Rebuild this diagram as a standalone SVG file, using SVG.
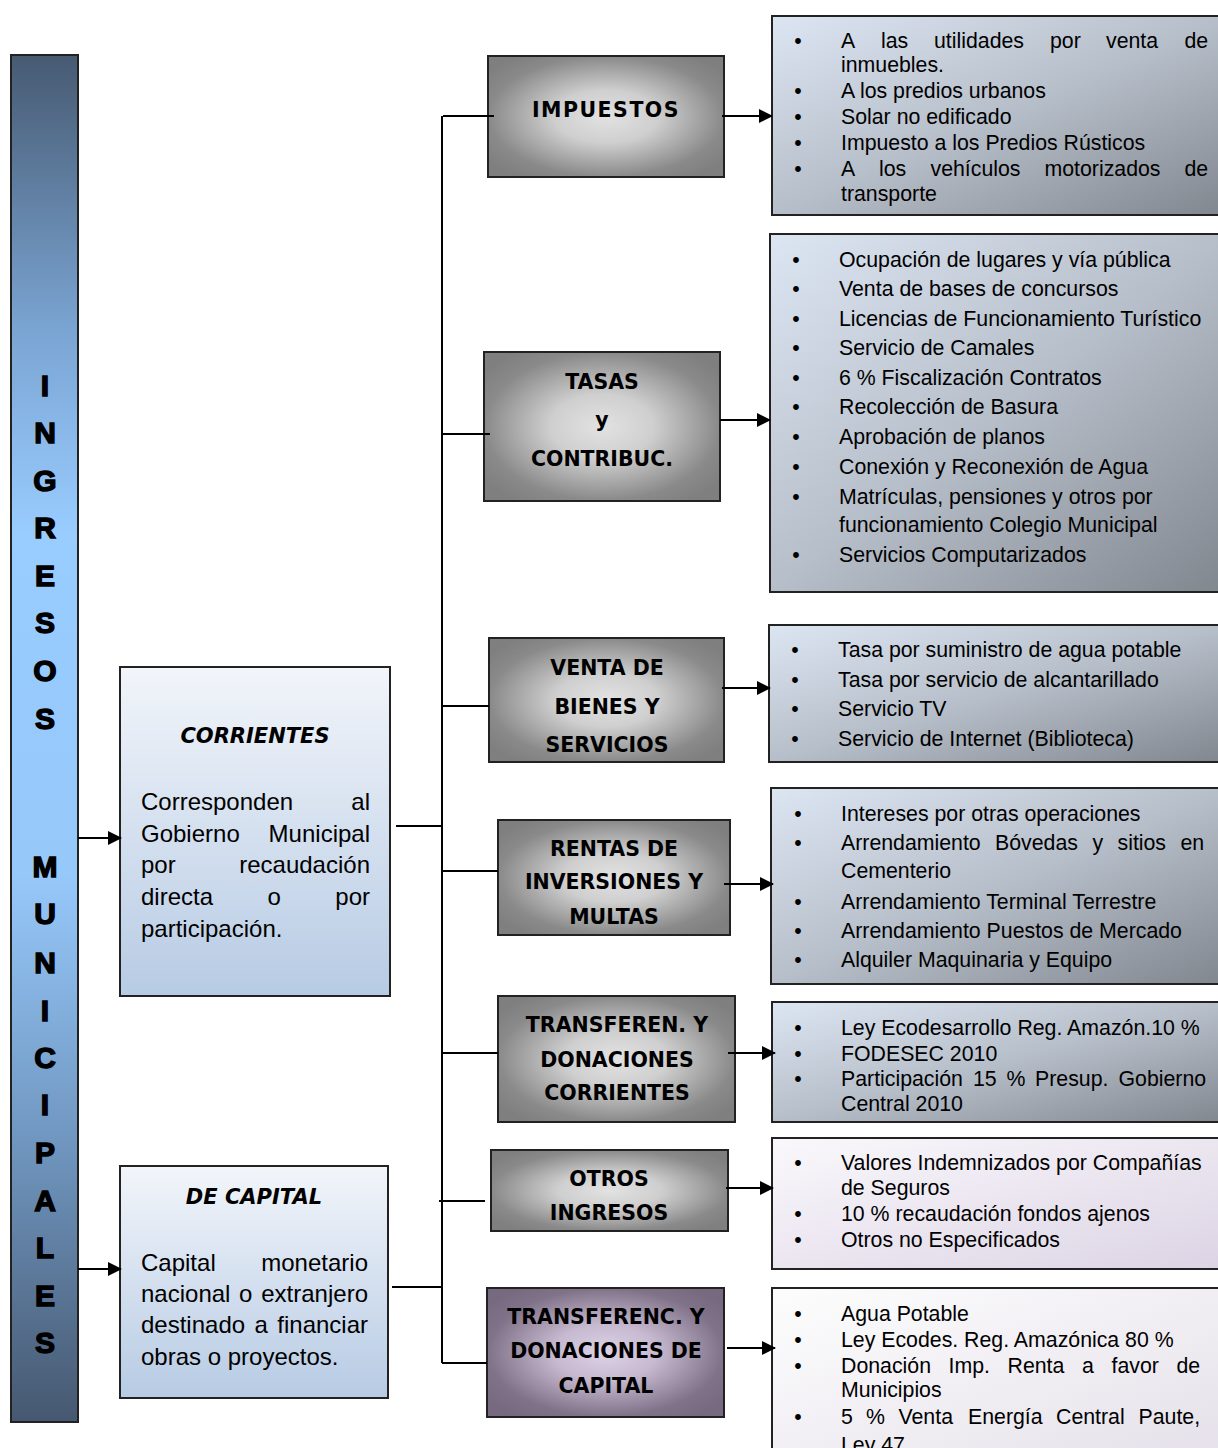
<svg xmlns="http://www.w3.org/2000/svg" width="1218" height="1448" viewBox="0 0 1218 1448">
<defs>
<linearGradient id="barG" x1="0" y1="0" x2="0" y2="1">
<stop offset="0" stop-color="#475a72"/>
<stop offset="0.2" stop-color="#7aa4d2"/>
<stop offset="0.35" stop-color="#99ccff"/>
<stop offset="0.6" stop-color="#96c8fa"/>
<stop offset="0.8" stop-color="#6f95be"/>
<stop offset="1" stop-color="#465870"/>
</linearGradient>
<radialGradient id="grayG" cx="0.5" cy="0.5" r="0.62">
<stop offset="0" stop-color="#e2e2e2"/>
<stop offset="0.35" stop-color="#cfcfcf"/>
<stop offset="0.8" stop-color="#8a8a8a"/>
<stop offset="1" stop-color="#7f7f7f"/>
</radialGradient>
<radialGradient id="purpG" cx="0.5" cy="0.5" r="0.62">
<stop offset="0" stop-color="#ddd3e6"/>
<stop offset="0.35" stop-color="#c6b9d0"/>
<stop offset="0.8" stop-color="#807289"/>
<stop offset="1" stop-color="#77697f"/>
</radialGradient>
<linearGradient id="listG" x1="0" y1="0" x2="1" y2="1">
<stop offset="0" stop-color="#dce6f2"/>
<stop offset="0.5" stop-color="#b6bec9"/>
<stop offset="1" stop-color="#80868e"/>
</linearGradient>
<linearGradient id="lavG" x1="0" y1="0" x2="1" y2="1">
<stop offset="0" stop-color="#faf8fc"/>
<stop offset="1" stop-color="#dcd3e4"/>
</linearGradient>
<linearGradient id="paleG" x1="0" y1="0" x2="1" y2="1">
<stop offset="0" stop-color="#fdfdfd"/>
<stop offset="1" stop-color="#e4dfe9"/>
</linearGradient>
<linearGradient id="blueG" x1="0" y1="0" x2="0" y2="1">
<stop offset="0" stop-color="#f2f5fa"/>
<stop offset="1" stop-color="#b7cbe4"/>
</linearGradient>
<marker id="arr" markerUnits="userSpaceOnUse" markerWidth="14" markerHeight="14" refX="13" refY="7" orient="auto">
<path d="M0,0 L14,7 L0,14 z" fill="#000"/>
</marker>
</defs>
<style>
.bx{stroke:#222;stroke-width:2}
.lbl{font-family:"DejaVu Sans",sans-serif;font-weight:bold;font-size:20.5px;fill:#000;text-anchor:middle}
.ttl{font-family:"DejaVu Sans",sans-serif;font-weight:bold;font-style:oblique;font-size:21px;fill:#000;text-anchor:middle}
.vl{font-family:"Liberation Sans",Arial,sans-serif;font-weight:bold;font-size:30px;fill:#000;stroke:#000;stroke-width:1.4;text-anchor:middle}
.li{font-family:"Liberation Sans",Arial,sans-serif;font-size:21.3px;fill:#000}
.bu{font-family:"Liberation Sans",Arial,sans-serif;font-size:21.3px;fill:#000;text-anchor:middle}
.bd{font-family:"Liberation Sans",Arial,sans-serif;font-size:24px;fill:#000}
.e{text-anchor:end}
.cn{stroke:#000;stroke-width:2;fill:none}
</style>

<g id="ingresos-municipales">
<rect x="11" y="55" width="67" height="1367" fill="url(#barG)" class="bx"/>
<text class="vl" x="45" y="396">I</text>
<text class="vl" x="45" y="443">N</text>
<text class="vl" x="45" y="491">G</text>
<text class="vl" x="45" y="538">R</text>
<text class="vl" x="45" y="586">E</text>
<text class="vl" x="45" y="633">S</text>
<text class="vl" x="45" y="681">O</text>
<text class="vl" x="45" y="729">S</text>
<text class="vl" x="45" y="877">M</text>
<text class="vl" x="45" y="924">U</text>
<text class="vl" x="45" y="973">N</text>
<text class="vl" x="45" y="1021">I</text>
<text class="vl" x="45" y="1068">C</text>
<text class="vl" x="45" y="1115">I</text>
<text class="vl" x="45" y="1163">P</text>
<text class="vl" x="45" y="1211">A</text>
<text class="vl" x="45" y="1258">L</text>
<text class="vl" x="45" y="1306">E</text>
<text class="vl" x="45" y="1353">S</text>
</g>

<g id="corrientes">
<rect x="120" y="667" width="270" height="329" fill="url(#blueG)" class="bx"/>
<text class="ttl" x="255" y="743">CORRIENTES</text>
<text class="bd" x="141" y="809.5">Corresponden</text>
<text class="bd e" x="370" y="809.5">al</text>
<text class="bd" x="141" y="841.5">Gobierno</text>
<text class="bd e" x="370" y="841.5">Municipal</text>
<text class="bd" x="141" y="872.5">por</text>
<text class="bd e" x="370" y="872.5">recaudación</text>
<text class="bd" x="141" y="904.5">directa</text>
<text class="bd" x="267.5" y="904.5">o</text>
<text class="bd e" x="370" y="904.5">por</text>
<text class="bd" x="141" y="936.5">participación.</text>
</g>

<g id="de-capital">
<rect x="120" y="1166" width="268" height="232" fill="url(#blueG)" class="bx"/>
<text class="ttl" x="254" y="1204">DE CAPITAL</text>
<text class="bd" x="141" y="1270.5">Capital</text>
<text class="bd e" x="368" y="1270.5">monetario</text>
<text class="bd" x="141" y="1301.5">nacional</text>
<text class="bd" x="239" y="1301.5">o</text>
<text class="bd e" x="368" y="1301.5">extranjero</text>
<text class="bd" x="141" y="1332.5">destinado</text>
<text class="bd" x="254.5" y="1332.5">a</text>
<text class="bd e" x="368" y="1332.5">financiar</text>
<text class="bd" x="141" y="1364.5">obras o proyectos.</text>
</g>

<g id="impuestos">
<rect x="488" y="56" width="236" height="121" fill="url(#grayG)" class="bx"/>
<text class="lbl" x="606" y="117" letter-spacing="1.5">IMPUESTOS</text>
</g>
<g id="tasas">
<rect x="484" y="352" width="236" height="149" fill="url(#grayG)" class="bx"/>
<text class="lbl" x="602" y="389">TASAS</text>
<text class="lbl" x="602" y="427">y</text>
<text class="lbl" x="602" y="466">CONTRIBUC.</text>
</g>
<g id="venta">
<rect x="489" y="638" width="235" height="124" fill="url(#grayG)" class="bx"/>
<text class="lbl" x="607" y="675">VENTA DE</text>
<text class="lbl" x="607" y="714">BIENES Y</text>
<text class="lbl" x="607" y="752">SERVICIOS</text>
</g>
<g id="rentas">
<rect x="498" y="820" width="232" height="115" fill="url(#grayG)" class="bx"/>
<text class="lbl" x="614" y="856">RENTAS DE</text>
<text class="lbl" x="614" y="889">INVERSIONES Y</text>
<text class="lbl" x="614" y="924">MULTAS</text>
</g>
<g id="transf-corrientes">
<rect x="498" y="996" width="237" height="126" fill="url(#grayG)" class="bx"/>
<text class="lbl" x="617" y="1032">TRANSFEREN. Y</text>
<text class="lbl" x="617" y="1067">DONACIONES</text>
<text class="lbl" x="617" y="1100">CORRIENTES</text>
</g>
<g id="otros">
<rect x="491" y="1150" width="237" height="81" fill="url(#grayG)" class="bx"/>
<text class="lbl" x="609" y="1186">OTROS</text>
<text class="lbl" x="609" y="1220">INGRESOS</text>
</g>
<g id="transf-capital">
<rect x="487" y="1288" width="237" height="129" fill="url(#purpG)" class="bx"/>
<text class="lbl" x="606" y="1324">TRANSFERENC. Y</text>
<text class="lbl" x="606" y="1358">DONACIONES DE</text>
<text class="lbl" x="606" y="1393">CAPITAL</text>
</g>

<g id="lista-impuestos">
<rect x="772" y="16" width="460" height="199" fill="url(#listG)" class="bx"/>
<text class="bu" x="798" y="47.5">•</text>
<text class="li" y="47.5"><tspan x="841">A</tspan><tspan x="881">las</tspan><tspan x="934">utilidades</tspan><tspan x="1050">por</tspan><tspan x="1106">venta</tspan><tspan x="1184.5">de</tspan></text>
<text class="li" x="841" y="71.5">inmuebles.</text>
<text class="bu" x="798" y="97.5">•</text>
<text class="li" x="841" y="97.5">A los predios urbanos</text>
<text class="bu" x="798" y="123.5">•</text>
<text class="li" x="841" y="123.5">Solar no edificado</text>
<text class="bu" x="798" y="149.5">•</text>
<text class="li" x="841" y="149.5">Impuesto a los Predios Rústicos</text>
<text class="bu" x="798" y="175.5">•</text>
<text class="li" y="175.5"><tspan x="841">A</tspan><tspan x="879">los</tspan><tspan x="930.5">vehículos</tspan><tspan x="1044.5">motorizados</tspan><tspan x="1184.5">de</tspan></text>
<text class="li" x="841" y="200.5">transporte</text>
</g>

<g id="lista-tasas">
<rect x="770" y="234" width="460" height="358" fill="url(#listG)" class="bx"/>
<text class="bu" x="796" y="266.5">•</text><text class="li" x="839" y="266.5">Ocupación de lugares y vía pública</text>
<text class="bu" x="796" y="295.5">•</text><text class="li" x="839" y="295.5">Venta de bases de concursos</text>
<text class="bu" x="796" y="325.5">•</text><text class="li" x="839" y="325.5">Licencias de Funcionamiento Turístico</text>
<text class="bu" x="796" y="354.5">•</text><text class="li" x="839" y="354.5">Servicio de Camales</text>
<text class="bu" x="796" y="384.5">•</text><text class="li" x="839" y="384.5">6 % Fiscalización Contratos</text>
<text class="bu" x="796" y="413.5">•</text><text class="li" x="839" y="413.5">Recolección de Basura</text>
<text class="bu" x="796" y="443.5">•</text><text class="li" x="839" y="443.5">Aprobación de planos</text>
<text class="bu" x="796" y="473.5">•</text><text class="li" x="839" y="473.5">Conexión y Reconexión de Agua</text>
<text class="bu" x="796" y="503.5">•</text><text class="li" x="839" y="503.5">Matrículas, pensiones y otros por</text>
<text class="li" x="839" y="531.5">funcionamiento Colegio Municipal</text>
<text class="bu" x="796" y="561.5">•</text><text class="li" x="839" y="561.5">Servicios Computarizados</text>
</g>

<g id="lista-venta">
<rect x="769" y="625" width="460" height="137" fill="url(#listG)" class="bx"/>
<text class="bu" x="795" y="656.5">•</text><text class="li" x="838" y="656.5">Tasa por suministro de agua potable</text>
<text class="bu" x="795" y="686.5">•</text><text class="li" x="838" y="686.5">Tasa por servicio de alcantarillado</text>
<text class="bu" x="795" y="715.5">•</text><text class="li" x="838" y="715.5">Servicio TV</text>
<text class="bu" x="795" y="745.5">•</text><text class="li" x="838" y="745.5">Servicio de Internet (Biblioteca)</text>
</g>

<g id="lista-rentas">
<rect x="771" y="788" width="460" height="196" fill="url(#listG)" class="bx"/>
<text class="bu" x="798" y="820.5">•</text><text class="li" x="841" y="820.5">Intereses por otras operaciones</text>
<text class="bu" x="798" y="849.5">•</text>
<text class="li" y="849.5"><tspan x="841">Arrendamiento</tspan><tspan x="995">Bóvedas</tspan><tspan x="1092.5">y</tspan><tspan x="1117.5">sitios</tspan><tspan x="1180.5">en</tspan></text>
<text class="li" x="841" y="877.5">Cementerio</text>
<text class="bu" x="798" y="908.5">•</text><text class="li" x="841" y="908.5">Arrendamiento Terminal Terrestre</text>
<text class="bu" x="798" y="937.5">•</text><text class="li" x="841" y="937.5">Arrendamiento Puestos de Mercado</text>
<text class="bu" x="798" y="966.5">•</text><text class="li" x="841" y="966.5">Alquiler Maquinaria y Equipo</text>
</g>

<g id="lista-transf-corrientes">
<rect x="772" y="1002" width="460" height="120" fill="url(#listG)" class="bx"/>
<text class="bu" x="798" y="1034.5">•</text><text class="li" x="841" y="1034.5">Ley Ecodesarrollo Reg. Amazón.10 %</text>
<text class="bu" x="798" y="1060.5">•</text><text class="li" x="841" y="1060.5">FODESEC 2010</text>
<text class="bu" x="798" y="1085.5">•</text>
<text class="li" y="1085.5"><tspan x="841">Participación</tspan><tspan x="973">15</tspan><tspan x="1006.5">%</tspan><tspan x="1035">Presup.</tspan><tspan x="1118.5">Gobierno</tspan></text>
<text class="li" x="841" y="1110.5">Central 2010</text>
</g>

<g id="lista-otros">
<rect x="772" y="1138" width="460" height="131" fill="url(#lavG)" class="bx"/>
<text class="bu" x="798" y="1169.5">•</text><text class="li" x="841" y="1169.5">Valores Indemnizados por Compañías</text>
<text class="li" x="841" y="1194.5">de Seguros</text>
<text class="bu" x="798" y="1220.5">•</text><text class="li" x="841" y="1220.5">10 % recaudación fondos ajenos</text>
<text class="bu" x="798" y="1246.5">•</text><text class="li" x="841" y="1246.5">Otros no Especificados</text>
</g>

<g id="lista-transf-capital">
<rect x="772" y="1288" width="460" height="180" fill="url(#paleG)" class="bx"/>
<text class="bu" x="798" y="1320.5">•</text><text class="li" x="841" y="1320.5">Agua Potable</text>
<text class="bu" x="798" y="1346.5">•</text><text class="li" x="841" y="1346.5">Ley Ecodes. Reg. Amazónica 80 %</text>
<text class="bu" x="798" y="1372.5">•</text>
<text class="li" y="1372.5"><tspan x="841">Donación</tspan><tspan x="948.5">Imp.</tspan><tspan x="1007.5">Renta</tspan><tspan x="1082">a</tspan><tspan x="1111.5">favor</tspan><tspan x="1176.5">de</tspan></text>
<text class="li" x="841" y="1396.5">Municipios</text>
<text class="bu" x="798" y="1423.5">•</text>
<text class="li" y="1423.5"><tspan x="841">5</tspan><tspan x="866">%</tspan><tspan x="898.5">Venta</tspan><tspan x="968">Energía</tspan><tspan x="1056">Central</tspan><tspan x="1138.5">Paute,</tspan></text>
<text class="li" x="841" y="1452">Ley 47</text>
</g>

<g id="connectors">
<path class="cn" d="M442,116 V1363"/>
<path class="cn" d="M443,116 H494"/>
<path class="cn" d="M443,434 H490"/>
<path class="cn" d="M443,706 H489"/>
<path class="cn" d="M396,826 H442"/>
<path class="cn" d="M443,871 H498"/>
<path class="cn" d="M443,1053 H498"/>
<path class="cn" d="M439,1201 H485"/>
<path class="cn" d="M392,1287 H442"/>
<path class="cn" d="M442,1363 H487"/>
<path class="cn" d="M78,838 H121" marker-end="url(#arr)"/>
<path class="cn" d="M78,1269 H121" marker-end="url(#arr)"/>
<path class="cn" d="M722,116 H772" marker-end="url(#arr)"/>
<path class="cn" d="M720,420 H770" marker-end="url(#arr)"/>
<path class="cn" d="M722,688 H770" marker-end="url(#arr)"/>
<path class="cn" d="M724,884 H773" marker-end="url(#arr)"/>
<path class="cn" d="M728,1053 H775" marker-end="url(#arr)"/>
<path class="cn" d="M726,1188 H773" marker-end="url(#arr)"/>
<path class="cn" d="M727,1348 H775" marker-end="url(#arr)"/>
</g>
</svg>
